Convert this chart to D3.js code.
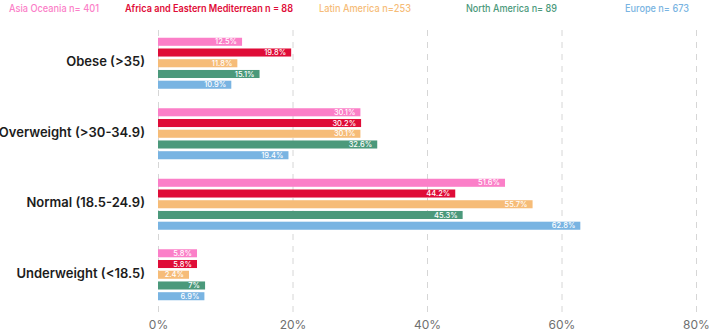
<!DOCTYPE html>
<html>
<head>
<meta charset="utf-8">
<script src="https://cdn.jsdelivr.net/npm/d3@7"></script>
<style>
  body { margin: 0; background: #fff; }
  svg { display: block; font-family: Inter, "Noto Sans", sans-serif; }
</style>
</head>
<body>
<div class="container"></div>
<script>
const categories = ["Obese (>35)", "Overweight (>30-34.9)", "Normal (18.5-24.9)", "Underweight (<18.5)"];
const seriesNames = ["Asia Oceania n= 401", "Africa and Eastern Mediterrean n = 88", "Latin America n=253", "North America n= 89", "Europe n= 673"];
const asiaOceania = [12.5, 30.1, 51.6, 5.8];
const africaEMed = [19.8, 30.2, 44.2, 5.8];
const latinAmerica = [11.8, 30.1, 55.7, 2.4];
const northAmerica = [15.1, 32.6, 45.3, 7];
const europe = [10.9, 19.4, 62.8, 6.9];
const xTicks = [0, 20, 40, 60, 80];
const colors = ["#fb7fc8", "#df0c38", "#f6bc78", "#4b997b", "#79b4e2"];
const legendX = [9, 125, 319, 466, 625];
const legendW = [90, 168, 92, 91, 64];

const w = 709;
const h = 335;
const minBar = 31; // short bars still fit their label

const allSeries = [asiaOceania, africaEMed, latinAmerica, northAmerica, europe];
const dataset = [];
categories.forEach((c, ci) => {
    allSeries.forEach((s, si) => {
        dataset.push({cat: c, series: si, value: s[ci]});
    });
});

const svg = d3.select(".container")
              .append("svg")
              .attr("width", w)
              .attr("height", h);

const xScale = d3.scaleLinear()
                 .domain([0, 80])
                 .range([158, 696]);

const yScale = d3.scaleBand()
                 .domain(categories)
                 .range([28, 310]);

const innerScale = d3.scaleBand()
                     .domain(d3.range(seriesNames.length))
                     .range([-25.5, 25.5])
                     .paddingInner(0.25)
                     .paddingOuter(0);

// gridlines
svg.append("g")
   .selectAll("line")
   .data(xTicks)
   .enter()
   .append("line")
   .attr("x1", d => xScale(d) + 0.5)
   .attr("x2", d => xScale(d) + 0.5)
   .attr("y1", 30)
   .attr("y2", 312)
   .attr("stroke", "#d6d6d6")
   .attr("stroke-width", 1)
   .attr("stroke-dasharray", "6,6");

// x axis labels
const xAxis = d3.axisBottom(xScale)
                .tickValues(xTicks)
                .tickFormat(d => d + "%")
                .tickSize(0)
                .tickPadding(0);
const gx = svg.append("g")
   .attr("id", "x-axis")
   .attr("transform", "translate(0,320)")
   .call(xAxis);
gx.select(".domain").remove();
gx.selectAll("text")
  .attr("font-size", 12)
  .attr("fill", "#6f6f6f")
  .attr("font-family", "Inter, sans-serif");

// y axis labels
const yAxis = d3.axisLeft(yScale).tickSize(0).tickPadding(0);
const gy = svg.append("g")
   .attr("id", "y-axis")
   .attr("transform", "translate(145,-1)")
   .call(yAxis);
gy.select(".domain").remove();
gy.selectAll("text")
  .attr("font-size", 13)
  .attr("font-weight", 600)
  .attr("fill", "#1c1c1c")
  .attr("font-family", "Inter, sans-serif");

// bars
const barY = d => yScale(d.cat) + yScale.bandwidth() / 2 + innerScale(d.series);
const barW = d => Math.max(xScale(d.value) - xScale(0), minBar);

svg.selectAll("rect.bar")
   .data(dataset)
   .enter()
   .append("rect")
   .attr("class", "bar")
   .attr("x", xScale(0))
   .attr("y", barY)
   .attr("width", barW)
   .attr("height", innerScale.bandwidth())
   .attr("fill", d => colors[d.series]);

svg.selectAll("text.val")
   .data(dataset)
   .enter()
   .append("text")
   .attr("class", "val")
   .attr("x", d => xScale(0) + barW(d) - 5)
   .attr("y", d => barY(d) + innerScale.bandwidth() / 2)
   .attr("dy", "0.35em")
   .attr("text-anchor", "end")
   .attr("font-size", 7.5)
   .attr("font-weight", 500)
   .attr("fill", "#fff")
   .text(d => d.value + "%");

// legend
svg.append("g")
   .selectAll("text")
   .data(seriesNames)
   .enter()
   .append("text")
   .attr("x", (d, i) => legendX[i])
   .attr("y", 12)
   .attr("font-size", 10)
   .attr("font-weight", (d, i) => i === 1 ? 600 : 500)
   .attr("textLength", (d, i) => legendW[i])
   .attr("lengthAdjust", "spacingAndGlyphs")
   .attr("fill", (d, i) => colors[i])
   .text(d => d);
</script>
</body>
</html>
